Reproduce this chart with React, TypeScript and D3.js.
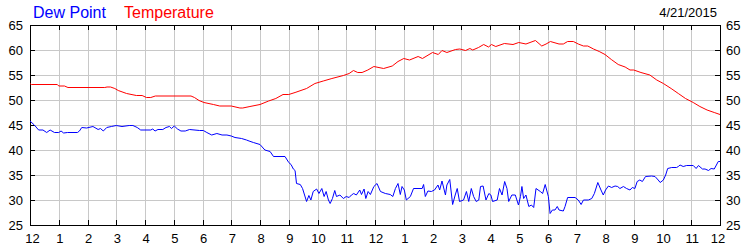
import React from "react";
import * as d3 from "d3";

const hourLabels = ["12","1","2","3","4","5","6","7","8","9","10","11","12","1","2","3","4","5","6","7","8","9","10","11","12"];
const yTicks = [25, 30, 35, 40, 45, 50, 55, 60, 65];
const dateLabel = "4/21/2015";
const seriesNames = ["Dew Point", "Temperature"];

const tempHours = [0,0.05,0.95,1.0,1.2,1.32,2.6,2.68,2.8,2.95,3.07,3.36,3.7,3.9,4.05,4.2,4.36,5.6,5.72,5.88,6.05,6.38,6.6,7.0,7.3,7.4,7.65,8.0,8.3,8.55,8.8,9.0,9.22,9.62,9.91,10.2,10.5,10.9,11.1,11.25,11.4,11.55,11.75,11.96,12.3,12.6,12.8,13.0,13.2,13.5,13.65,14.0,14.2,14.33,14.5,14.8,14.95,15.15,15.3,15.4,15.6,15.78,15.95,16.05,16.2,16.5,16.8,17.0,17.25,17.58,17.8,17.95,18.1,18.4,18.55,18.7,18.9,19.07,19.25,19.4,19.6,19.8,20.0,20.22,20.46,20.7,20.87,21.0,21.25,21.56,21.8,22.03,22.3,22.55,22.8,23.07,23.3,23.55,23.8,24.0];
const tempValues = [53.3,53.1,53.1,52.8,52.8,52.5,52.5,52.6,52.6,52.3,51.9,51.3,50.9,50.9,50.5,50.5,50.8,50.8,50.5,49.9,49.5,49.1,48.8,48.8,48.4,48.4,48.7,49.1,49.8,50.3,51.1,51.1,51.5,52.3,53.3,53.8,54.3,54.9,55.3,55.9,55.5,55.5,56.0,56.7,56.3,56.8,57.7,58.3,58.0,58.7,58.3,59.5,59.1,59.9,59.5,60.1,60.2,59.9,60.3,60.0,60.5,61.1,60.6,61.1,60.7,61.3,61.1,61.5,61.2,61.9,60.8,61.2,61.7,61.2,61.2,61.7,61.7,61.2,60.8,60.8,60.2,59.7,59.1,58.1,57.1,56.6,56.0,56.0,55.5,55.0,54.0,53.3,52.3,51.3,50.3,49.5,48.7,48.0,47.5,47.1];

const dewHours = [0,0.15,0.3,0.45,0.58,0.7,0.85,1.0,1.08,1.17,1.3,1.65,1.72,1.8,1.97,2.19,2.37,2.45,2.55,2.67,2.83,3.0,3.2,3.45,3.58,3.73,3.85,4.2,4.27,4.35,4.45,4.62,4.73,4.85,4.92,5.02,5.13,5.25,5.4,5.55,5.9,6.03,6.15,6.32,6.5,6.68,6.85,7.0,7.13,7.36,7.53,7.62,7.77,8.0,8.17,8.35,8.47,8.87,9.0,9.08,9.16,9.22,9.27,9.4,9.48,9.62,9.7,9.77,9.85,9.97,10.05,10.15,10.23,10.3,10.38,10.44,10.52,10.6,10.66,10.78,10.9,11.0,11.1,11.18,11.26,11.35,11.47,11.53,11.62,11.68,11.76,11.84,11.96,12.07,12.19,12.36,12.53,12.62,12.71,12.8,12.88,12.94,13.02,13.09,13.23,13.34,13.64,13.69,13.75,13.84,13.96,14.07,14.19,14.25,14.33,14.45,14.5,14.6,14.7,14.79,14.86,14.94,15.08,15.18,15.26,15.35,15.43,15.52,15.61,15.67,15.76,15.86,15.96,16.03,16.09,16.25,16.33,16.42,16.51,16.59,16.65,16.76,16.88,16.99,17.06,17.11,17.17,17.25,17.35,17.44,17.52,17.6,17.75,17.83,17.92,17.97,18.03,18.09,18.17,18.26,18.34,18.4,18.55,18.61,18.7,18.96,19.07,19.17,19.25,19.42,19.54,19.63,19.75,19.86,19.94,20.02,20.12,20.23,20.35,20.44,20.52,20.64,20.75,20.87,20.95,21.04,21.12,21.21,21.3,21.41,21.62,21.74,21.85,21.92,22.03,22.11,22.18,22.32,22.49,22.55,22.61,22.72,22.84,23.07,23.17,23.25,23.39,23.48,23.6,23.69,23.8,23.94,24.0];
const dewValues = [45.8,45.0,44.0,44.0,43.5,44.0,43.5,43.5,43.8,43.4,43.5,43.5,43.8,44.5,44.4,44.7,44.1,44.3,43.8,44.5,44.7,44.9,44.7,44.9,44.9,44.5,44.0,44.0,44.2,43.8,44.1,44.1,44.5,44.7,44.3,44.8,44.2,43.8,43.8,44.1,43.9,43.9,43.5,43.0,43.3,43.0,43.0,42.8,42.5,42.3,42.0,41.8,41.5,41.1,40.0,39.7,38.7,38.7,37.5,37.1,36.2,35.9,33.3,33.1,32.3,29.7,30.9,30.0,31.7,32.2,31.3,32.3,30.7,31.7,30.0,29.3,30.3,31.9,30.7,31.0,30.3,30.7,30.5,31.0,31.3,31.0,32.0,31.1,32.2,30.3,31.7,31.1,32.7,33.3,31.7,31.3,31.1,30.7,32.3,33.3,31.1,32.7,32.0,30.0,30.7,32.3,32.3,33.1,30.7,31.8,31.7,32.0,33.0,32.0,33.8,31.0,33.0,34.1,29.1,31.0,32.3,29.7,30.0,31.7,29.7,32.3,30.7,29.7,30.0,32.7,32.8,30.0,31.3,31.0,29.7,30.0,32.3,31.0,33.7,32.3,29.7,31.0,31.0,29.0,30.7,32.7,30.3,31.0,28.7,29.0,28.5,32.3,31.7,31.3,33.1,32.0,30.7,27.3,28.0,28.0,28.7,28.0,27.8,28.7,30.5,30.5,30.0,29.1,30.0,30.0,30.3,31.3,33.5,32.0,31.0,32.0,32.8,32.5,32.8,32.7,32.3,32.7,32.3,32.0,32.5,32.3,33.7,34.0,33.7,34.7,34.8,34.7,34.0,33.5,34.0,35.0,36.3,36.5,36.5,36.7,37.0,36.7,36.9,36.9,36.3,36.9,36.2,36.2,35.9,36.3,36.2,37.7,37.7];

const W = 750, H = 250;
const L = 30, R = 720, T = 25, B = 225;
const FONT = "'Liberation Sans', Arial, sans-serif";

export default function App() {
  const x = d3.scaleLinear().domain([0, 24]).range([L, R]);
  const y = d3.scaleLinear().domain([25, 65]).range([B, T]);
  const px = (v: number) => Math.round(v) + 0.5;

  const line = d3.line<[number, number]>().x(d => x(d[0])).y(d => y(d[1]));
  const tempData = tempHours.map((h, i) => [h, tempValues[i]] as [number, number]);
  const dewData = dewHours.map((h, i) => [h, dewValues[i]] as [number, number]);
  const hours = d3.range(0, 25);

  return (
    <svg width={W} height={H} style={{ position: "absolute", left: 0, top: 0, background: "#fff" }} fontFamily={FONT}>
      <rect x={0} y={0} width={W} height={H} fill="#fff" />
      {/* grid */}
      {hours.slice(1, -1).map(h => (
        <line key={"gv" + h} x1={px(x(h))} x2={px(x(h))} y1={T} y2={B} stroke="#c8c8c8" />
      ))}
      {yTicks.slice(1, -1).map(v => (
        <line key={"gh" + v} x1={L} x2={R} y1={px(y(v))} y2={px(y(v))} stroke="#c8c8c8" />
      ))}
      {/* ticks */}
      {hours.map(h => (
        <g key={"t" + h}>
          <line x1={px(x(h))} x2={px(x(h))} y1={T} y2={T + 5} stroke="#000" />
          <line x1={px(x(h))} x2={px(x(h))} y1={B - 5} y2={B} stroke="#000" />
        </g>
      ))}
      {yTicks.map(v => (
        <g key={"yt" + v}>
          <line x1={L} x2={L + 5} y1={px(y(v))} y2={px(y(v))} stroke="#000" />
          <line x1={R - 5} x2={R} y1={px(y(v))} y2={px(y(v))} stroke="#000" />
        </g>
      ))}
      {/* frame */}
      <rect x={px(L)} y={px(T)} width={Math.round(R) - Math.round(L)} height={Math.round(B) - Math.round(T)} fill="none" stroke="#000" />
      {/* series */}
      <path d={line(tempData) || ""} fill="none" stroke="#ff0000" strokeWidth={1} />
      <path d={line(dewData) || ""} fill="none" stroke="#0000ff" strokeWidth={1} />
      {/* y labels */}
      {yTicks.map(v => (
        <g key={"yl" + v} fontSize={13} fill="#000">
          <text x={L - 7} y={y(v)} dy="0.36em" textAnchor="end">{v}</text>
          <text x={R + 6} y={y(v)} dy="0.36em" textAnchor="start">{v}</text>
        </g>
      ))}
      {/* x labels */}
      {hourLabels.map((lab, i) => (
        <text key={"xl" + i} x={x(i) + (i === 0 ? 2.5 : i === 24 ? -2 : 1)} y={242.5} fontSize={13} textAnchor="middle" fill="#000">{lab}</text>
      ))}
      {/* legend */}
      <text x={33} y={17.5} fontSize={16} fill="#0000ff">{seriesNames[0]}</text>
      <text x={124} y={17.5} fontSize={16} fill="#ff0000">{seriesNames[1]}</text>
      <text x={717} y={16.7} fontSize={13} textAnchor="end" fill="#000">{dateLabel}</text>
    </svg>
  );
}
